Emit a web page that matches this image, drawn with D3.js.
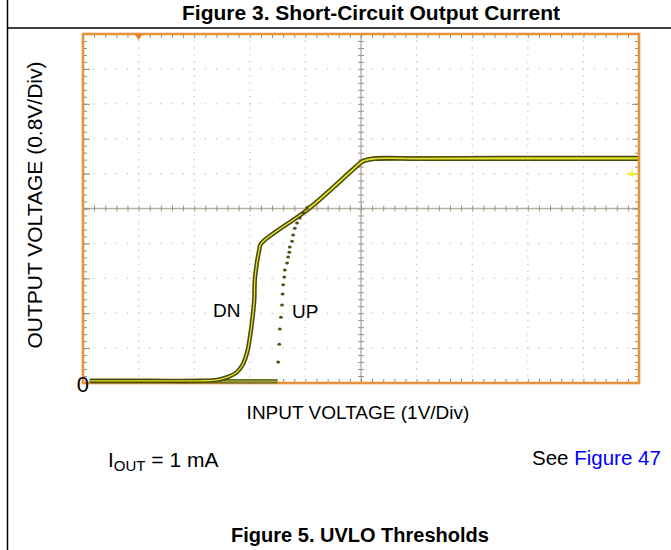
<!DOCTYPE html>
<html><head><meta charset="utf-8">
<script src="https://cdn.jsdelivr.net/npm/d3@7"></script>
<style>body{margin:0;background:#fff}svg{display:block}text{font-family:"Liberation Sans",Arial,sans-serif}</style>
</head><body>
<svg id="c" width="671" height="550"></svg>
<script>
// Data: x = input voltage in divisions (1 V/div), y = output voltage (V, 0.8 V/div)
const dnX = [0.13,1.2,2.1,2.41,2.61,2.77,2.88,2.95,3.0,3.04,3.08,3.09,3.13,3.17,3.2,4.08,4.89,5.02,5.11,5.25,6.06,7.5,9.98];
const dnY = [0.05,0.05,0.05,0.07,0.14,0.25,0.44,0.69,1.03,1.4,1.9,2.36,2.77,3.05,3.19,4.01,4.93,5.07,5.11,5.14,5.14,5.14,5.14];
const upLowX = [0.13,1.5,3.5];
const upLowY = [0.04,0.04,0.04];
const upDotX = [3.51,3.53,3.54,3.56,3.58,3.59,3.6,3.62,3.63,3.67,3.69,3.71,3.72,3.76,3.78,3.81,3.85,3.9,3.96,4.03];
const upDotY = [0.48,0.89,1.24,1.51,1.79,2.04,2.25,2.43,2.59,2.75,2.89,3.0,3.12,3.25,3.39,3.55,3.67,3.78,3.9,4.01];
const upHighX = [4.03,4.08,4.89,5.02,5.11,5.25,6.06,7.5,9.98];
const upHighY = [4.01,4.03,4.94,5.08,5.12,5.15,5.15,5.16,5.16];
const xDivs = 10, yDivs = 10, yMax = 8;

const svg = d3.select("#c");
const x = d3.scaleLinear().domain([0, xDivs]).range([83, 639]);
const y = d3.scaleLinear().domain([0, yMax]).range([383, 34]);
const yStep = yMax / yDivs;

// page frame
svg.append("line").attr("x1",7.5).attr("x2",7.5).attr("y1",0).attr("y2",550).attr("stroke","#000").attr("stroke-width",1.5);
svg.append("line").attr("x1",7.5).attr("x2",671).attr("y1",28).attr("y2",28).attr("stroke","#000").attr("stroke-width",1.5);

// dotted grid
const g = svg.append("g");
const minorX = d3.range(0, xDivs + 0.001, 0.2);
const minorY = d3.range(0, yMax + 0.001, yStep / 5);
for (let i = 1; i < xDivs; i++) {
  if (i === 5) continue;
  g.selectAll(null).data(minorY).join("rect")
    .attr("x", x(i) - 0.6).attr("y", d => y(d) - 0.6).attr("width", 1.3).attr("height", 1.3).attr("fill", "#c4c4c4");
}
for (let j = 1; j < yDivs; j++) {
  if (j === 5) continue;
  g.selectAll(null).data(minorX).join("rect")
    .attr("x", d => x(d) - 0.6).attr("y", y(j * yStep) - 0.6).attr("width", 1.3).attr("height", 1.3).attr("fill", "#c4c4c4");
}

// crosshair
svg.append("line").attr("x1", x(0)).attr("x2", x(xDivs)).attr("y1", y(yMax/2)).attr("y2", y(yMax/2)).attr("stroke", "#b8b0a4").attr("stroke-width", 1.4);
svg.append("line").attr("x1", x(xDivs/2)).attr("x2", x(xDivs/2)).attr("y1", y(0)).attr("y2", y(yMax)).attr("stroke", "#b8b0a4").attr("stroke-width", 1.4);
const tickStyle = sel => { sel.select(".domain").remove(); sel.selectAll("line").attr("stroke", "#9c9488").attr("stroke-width", 1); sel.selectAll("text").remove(); };
svg.append("g").attr("transform", `translate(0,${y(yMax/2) - 3})`).call(d3.axisBottom(x).tickValues(minorX).tickSize(6).tickFormat("")).call(tickStyle);
svg.append("g").attr("transform", `translate(${x(xDivs/2) - 3},0)`).call(d3.axisRight(y).tickValues(minorY).tickSize(6).tickFormat("")).call(tickStyle);

// edge ticks
const edgeStyle = sel => { sel.select(".domain").remove(); sel.selectAll("line").attr("stroke", "#8c8c8c").attr("stroke-width", 1); };
svg.append("g").attr("transform", `translate(0,${y(yMax)})`).call(d3.axisBottom(x).tickValues(minorX).tickSize(4).tickFormat("")).call(edgeStyle);
svg.append("g").attr("transform", `translate(0,${y(0)})`).call(d3.axisTop(x).tickValues(minorX).tickSize(4).tickFormat("")).call(edgeStyle);
svg.append("g").attr("transform", `translate(${x(0)},0)`).call(d3.axisRight(y).tickValues(minorY).tickSize(4).tickFormat("")).call(edgeStyle);
svg.append("g").attr("transform", `translate(${x(xDivs)},0)`).call(d3.axisLeft(y).tickValues(minorY).tickSize(4).tickFormat("")).call(edgeStyle);
const majY = d3.range(0, yMax + 0.001, yStep);
svg.append("g").attr("transform", `translate(${x(0)},0)`).call(d3.axisRight(y).tickValues(majY).tickSize(7).tickFormat("")).call(edgeStyle);
svg.append("g").attr("transform", `translate(${x(xDivs)},0)`).call(d3.axisLeft(y).tickValues(majY).tickSize(7).tickFormat("")).call(edgeStyle);

// orange frame
svg.append("rect").attr("x", x(0)).attr("y", y(yMax)).attr("width", x(xDivs) - x(0)).attr("height", y(0) - y(yMax))
  .attr("fill", "none").attr("stroke", "#e8923c").attr("stroke-width", 2.6);

// trigger marker and reference marker
svg.append("path").attr("d", `M${x(1)-4},${y(yMax)} L${x(1)+4},${y(yMax)} L${x(1)},${y(yMax)+6}Z`).attr("fill", "#e8802a");
svg.append("path").attr("d", `M${x(xDivs)-12},174 L${x(xDivs)-6},171 L${x(xDivs)-6},177Z`).attr("fill", "#f2f020");
svg.append("line").attr("x1", x(xDivs)-7).attr("x2", x(xDivs)-1).attr("y1", 174).attr("y2", 174).attr("stroke", "#f2f020").attr("stroke-width", 1.5);
svg.append("rect").attr("x", x(0)+6).attr("y", y(0)-4).attr("width", 3).attr("height", 3).attr("fill", "#5fd0d0");

// traces
const line = d3.line().x(d => x(d[0])).y(d => y(d[1])).curve(d3.curveMonotoneX);
const zip = (a, b) => a.map((v, i) => [v, b[i]]);
const lowPts = zip(upLowX, upLowY);
svg.append("path").datum(lowPts).attr("d", line).attr("fill", "none").attr("stroke", "#6c7428").attr("stroke-width", 4.5);
svg.append("path").datum(lowPts).attr("d", line).attr("fill", "none").attr("stroke", "#a8b040").attr("stroke-width", 1.2);
const dnPts = zip(dnX, dnY);
const dnLine = d3.line().x(d => x(d[0])).y(d => y(d[1])).curve(d3.curveCatmullRom.alpha(0.5));
const hiPts = zip(upHighX, upHighY);
[dnPts, hiPts].forEach(p => {
  svg.append("path").datum(p).attr("d", dnLine).attr("fill", "none").attr("stroke", "#4a4a0c").attr("stroke-width", 4.4).attr("stroke-linejoin", "round");
});
[dnPts, hiPts].forEach(p => {
  svg.append("path").datum(p).attr("d", dnLine).attr("fill", "none").attr("stroke", "#e2e226").attr("stroke-width", 1.3).attr("stroke-linejoin", "round");
});
svg.selectAll(".dot").data(zip(upDotX, upDotY)).join("ellipse").attr("class", "dot")
  .attr("cx", d => x(d[0])).attr("cy", d => y(d[1])).attr("rx", 1.9).attr("ry", 1.5).attr("fill", "#4f4f14");

// labels
const T = (txt, xx, yy, opts = {}) => svg.append("text").attr("x", xx).attr("y", yy).text(txt)
  .attr("font-size", opts.size || 19).attr("font-weight", opts.bold ? "bold" : null)
  .attr("text-anchor", opts.anchor || "start").attr("fill", opts.fill || "#000");
T("Figure 3. Short-Circuit Output Current", 371, 20, {size: 21, bold: true, anchor: "middle"});
T("Figure 5. UVLO Thresholds", 360, 542, {size: 20, bold: true, anchor: "middle"});
T("INPUT VOLTAGE (1V/Div)", 358, 419, {anchor: "middle"});
svg.append("text").attr("transform", "translate(42,205) rotate(-90)").attr("text-anchor", "middle").attr("font-size", 21).text("OUTPUT VOLTAGE (0.8V/Div)");
T("DN", 213, 317);
T("UP", 292, 318);
T("0", 89, 392, {size: 22, anchor: "end"});
const io = svg.append("text").attr("x", 108).attr("y", 467).attr("font-size", 21);
io.append("tspan").text("I");
io.append("tspan").attr("font-size", 15).attr("dy", 4).text("OUT");
io.append("tspan").attr("dy", -4).text(" = 1 mA");
const sf = svg.append("text").attr("x", 532).attr("y", 465).attr("font-size", 20.5);
sf.append("tspan").text("See ");
sf.append("tspan").attr("fill", "#0000ff").text("Figure 47");
</script>
</body></html>
